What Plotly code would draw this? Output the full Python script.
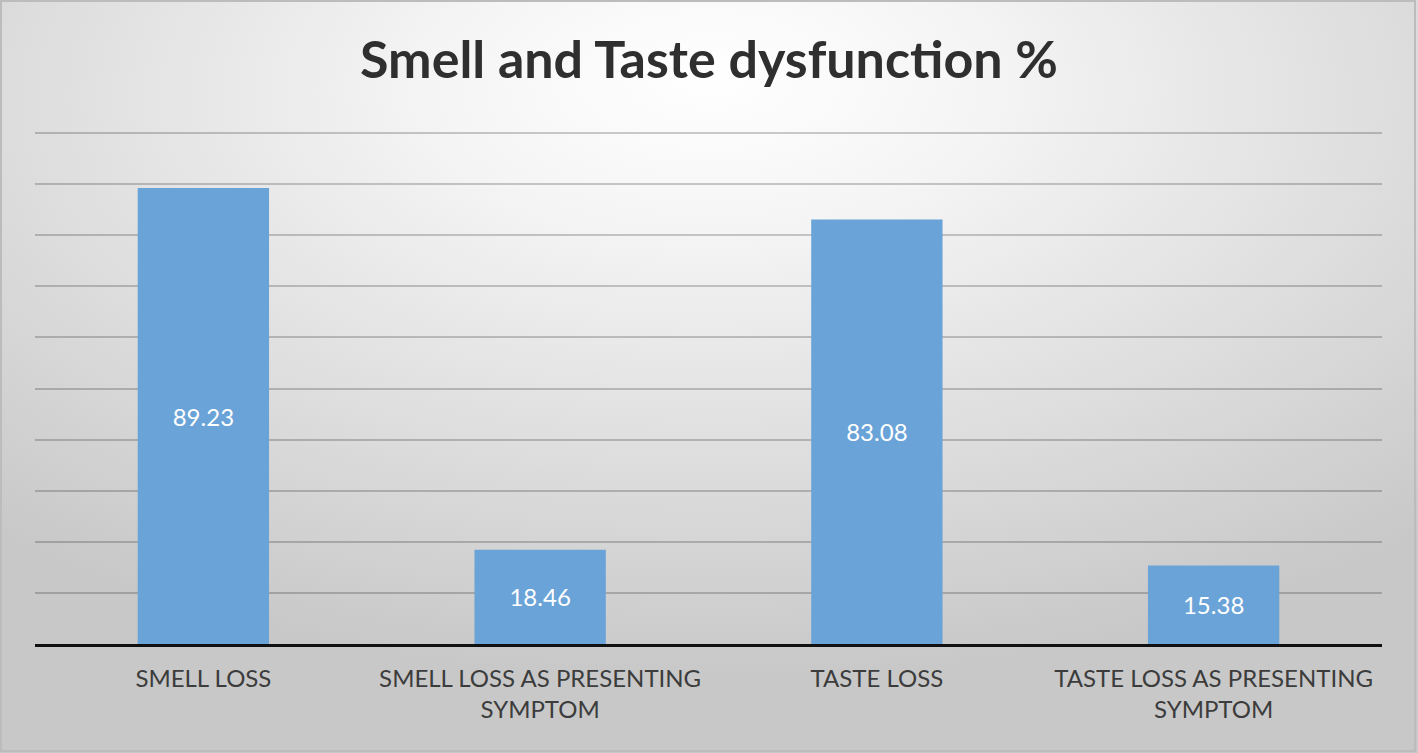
import base64
import plotly.graph_objects as go

categories = ["SMELL LOSS", "SMELL LOSS AS PRESENTING<br>SYMPTOM",
              "TASTE LOSS", "TASTE LOSS AS PRESENTING<br>SYMPTOM"]
percent = [89.23, 18.46, 83.08, 15.38]
labels = ["89.23", "18.46", "83.08", "15.38"]

W, H = 1418, 753
ml, mr, mt, mb = 35, 36, 131, 109
pw, ph = W - ml - mr, H - mt - mb

# radial grey background like the office chart style
svg = (
    '<svg xmlns="http://www.w3.org/2000/svg" width="1418" height="753" preserveAspectRatio="none">'
    '<defs><radialGradient id="g" cx="50%" cy="15%" r="75%" fx="50%" fy="10%">'
    '<stop offset="0%" stop-color="#ffffff"/>'
    '<stop offset="25%" stop-color="#f5f5f5"/>'
    '<stop offset="100%" stop-color="#c8c8c8"/>'
    '</radialGradient></defs>'
    '<rect width="1418" height="753" fill="url(#g)"/>'
    '<rect x="1" y="1" width="1414" height="750" fill="none" stroke="#bcbcbc" stroke-width="2"/>'
    '</svg>'
)
bg = "data:image/svg+xml;base64," + base64.b64encode(svg.encode()).decode()

fig = go.Figure(go.Bar(
    x=categories, y=percent, text=labels,
    textposition="inside", insidetextanchor="middle",
    textfont=dict(color="white", size=24, family="Lato"),
    marker=dict(color="#6aa3d7", line=dict(width=0)),
    width=0.39,
))

fig.update_layout(
    width=W, height=H,
    margin=dict(l=ml, r=mr, t=mt, b=mb),
    paper_bgcolor="#d8d8d8",
    plot_bgcolor="rgba(0,0,0,0)",
    title=dict(text="<b>Smell and Taste dysfunction %</b>", x=0.5, xanchor="center",
               y=1 - 60 / H, yanchor="middle",
               font=dict(family="Lato", size=52, color="#2f2f2f")),
    showlegend=False,
    images=[dict(source=bg, xref="paper", yref="paper",
                 x=-ml / pw, y=1 + mt / ph, sizex=W / pw, sizey=H / ph,
                 xanchor="left", yanchor="top", sizing="stretch", layer="below")],
    xaxis=dict(showline=True, linecolor="#111111", linewidth=3, automargin=False,
               tickfont=dict(family="Lato", size=24, color="#3c3c3c"),
               ticks="", ticklabelstandoff=11),
    yaxis=dict(range=[0, 100.4], dtick=10, showticklabels=False, automargin=False,
               showgrid=True, gridcolor="rgba(0,0,0,0.2)", gridwidth=2,
               zeroline=False),
)

# page body margin would push the chart off the frame
fig.write_html("out.html", config={"displayModeBar": False},
               post_script="document.body.style.margin='0';")
